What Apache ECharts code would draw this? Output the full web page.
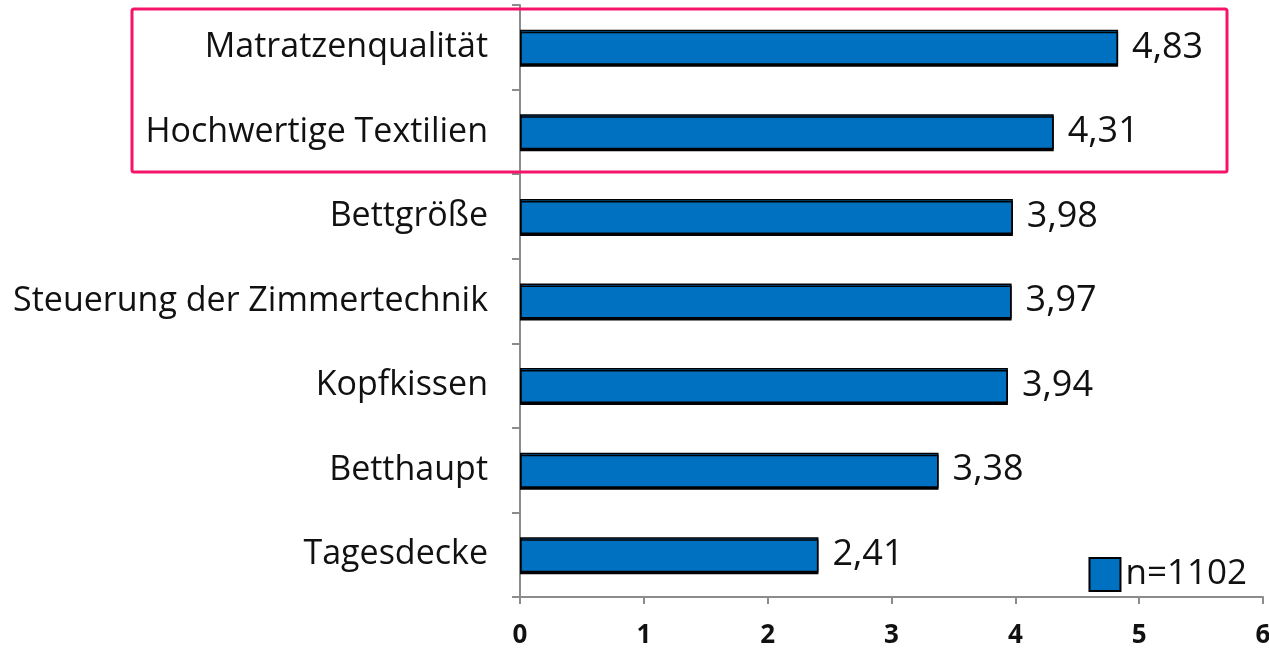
<!DOCTYPE html>
<html>
<head>
<meta charset="utf-8">
<script src="https://cdn.jsdelivr.net/npm/echarts@6/dist/echarts.min.js"></script>
<style>
html,body{margin:0;padding:0;background:#fff;}
#chart{width:1269px;height:649px;}
</style>
</head>
<body>
<div id="chart"></div>
<script>
// Kategorien von oben nach unten
var categories = ['Matratzenqualität', 'Hochwertige Textilien', 'Bettgröße', 'Steuerung der Zimmertechnik', 'Kopfkissen', 'Betthaupt', 'Tagesdecke'];
var values = [4.83, 4.31, 3.98, 3.97, 3.94, 3.38, 2.41];
var seriesName = 'n=1102';
var xTicks = [0, 1, 2, 3, 4, 5, 6];

var chart = echarts.init(document.getElementById('chart'));
var font = '"Open Sans", "Noto Sans", sans-serif';

var option = {
	animation: false,
	textStyle: { fontFamily: font },
	grid: { left: 520, right: 6, top: 5, bottom: 52, outerBoundsMode: 'none' },
	legend: {
		right: 17, top: 552,
		icon: 'rect',
		itemWidth: 31, itemHeight: 33, itemGap: 11,
		textStyle: { fontSize: 35, color: '#111', fontFamily: font },
		data: [{ name: seriesName, itemStyle: { color: '#0070C0', borderColor: '#000', borderWidth: 2 } }]
	},
	xAxis: {
		type: 'value',
		min: xTicks[0], max: xTicks[xTicks.length - 1], interval: 1,
		axisLine: { show: true, lineStyle: { color: '#8c8c8c', width: 2 } },
		axisTick: { show: true, length: 7, lineStyle: { color: '#8c8c8c', width: 2 } },
		axisLabel: { fontSize: 26, fontWeight: 'bold', color: '#111', margin: 26, fontFamily: font },
		splitLine: { show: false }
	},
	yAxis: {
		type: 'category',
		inverse: true,
		data: categories,
		axisLine: { lineStyle: { color: '#8c8c8c', width: 2 } },
		axisTick: { show: true, length: 8, lineStyle: { color: '#8c8c8c', width: 2 } },
		axisLabel: { fontSize: 34, color: '#111', margin: 32, fontFamily: font }
	},
	series: [{
		name: seriesName,
		type: 'bar',
		data: values,
		barWidth: 35,
		itemStyle: { color: '#0070C0', borderColor: '#000', borderWidth: 1.5,
			shadowColor: '#000', shadowOffsetY: 2, shadowBlur: 0 },
		label: {
			show: true, position: 'right', distance: 14,
			fontSize: 36, color: '#111', fontFamily: font,
			formatter: function (p) { return p.value.toFixed(2).replace('.', ','); }
		}
	}],
	graphic: [{
		type: 'rect',
		shape: { x: 132, y: 9, width: 1095, height: 163, r: 2 },
		style: { fill: 'none', stroke: '#F5146A', lineWidth: 3 },
		z: 100
	}]
};
chart.setOption(option);
</script>
</body>
</html>
